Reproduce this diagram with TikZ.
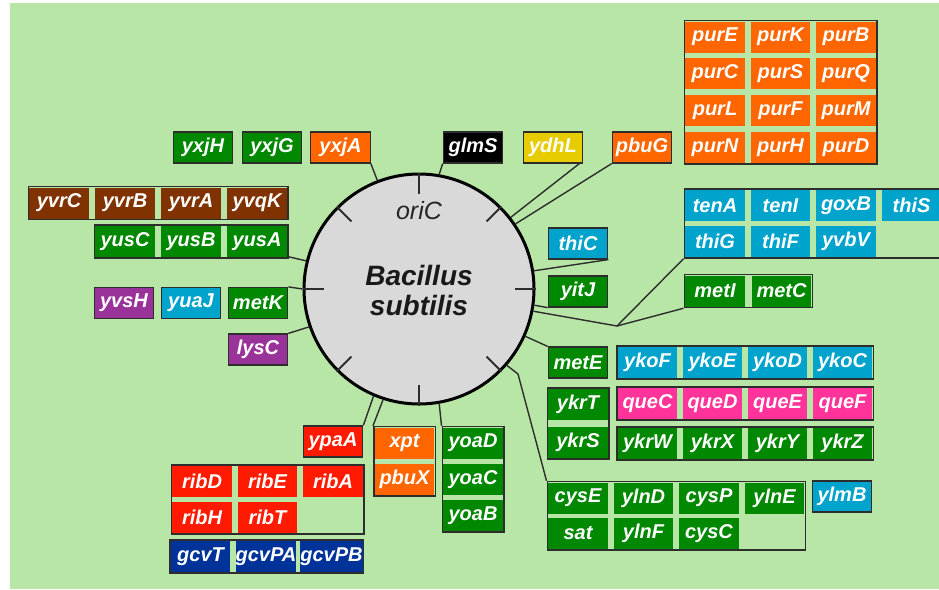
\documentclass[tikz,border=0pt]{standalone}
\usepackage{fontspec}
\setmainfont{Liberation Sans}
\usetikzlibrary{fit,calc}

\definecolor{bg}{RGB}{184,230,166}
\definecolor{chrom}{RGB}{217,217,217}
\definecolor{edge}{RGB}{45,45,45}
\definecolor{cgreen}{RGB}{0,136,0}
\definecolor{corange}{RGB}{255,102,0}
\definecolor{cbrown}{RGB}{128,51,0}
\definecolor{cpurple}{RGB}{153,51,153}
\definecolor{ccyan}{RGB}{0,163,204}
\definecolor{cpink}{RGB}{255,51,153}
\definecolor{cred}{RGB}{255,26,0}
\definecolor{cnavy}{RGB}{0,51,153}
\definecolor{cyellow}{RGB}{230,204,0}

\newcommand\genefont{\bfseries\itshape\fontsize{20}{20}\selectfont}

\tikzset{
  gene/.style={minimum width=59.5pt, minimum height=31pt, inner sep=0pt,
    text=white, font=\genefont},
  single/.style={gene, draw=edge, line width=1.2pt},
  grp/.style={draw=edge, line width=1.5pt, inner sep=0.8pt},
  link/.style={draw=edge, line width=1.4pt},
  tick/.style={draw=edge, line width=2pt},
}

\begin{document}
\begin{tikzpicture}[x=1pt, y=-1pt]
  % 初始化
  \useasboundingbox (0,0) rectangle (939,589);
  \clip (0,0) rectangle (939,589);
  \fill[white] (0,0) rectangle (939,589);
  \fill[bg] (10,3) rectangle (939,589);
  % 染色体
  \node[circle, draw=black, line width=3pt, fill=chrom, minimum size=230pt,
    inner sep=0pt] (bsu) at (419,289) {};
  \foreach \a in {0,45,...,315}
    \draw[tick] (bsu.\a) -- ($(bsu.\a)!21pt!(bsu.center)$);
  \node[text=black!85, font=\itshape\fontsize{25}{25}\selectfont] (oriLbl) at (419,211) {oriC};
  \node[text=black!90, font=\bfseries\itshape\fontsize{28}{30}\selectfont, align=center]
    (bsuLbl) at (419,290) {Bacillus\\subtilis};
  % 上方单个基因
  \node[single, fill=cgreen] (yxjH) at (203,147.5) {yxjH};
  \node[single, fill=cgreen] (yxjG) at (272,147.5) {yxjG};
  \node[single, fill=corange] (yxjA) at (340.5,147.5) {yxjA};
  \node[single, fill=black] (glmS) at (473,147.5) {glmS};
  \node[single, fill=cyellow] (ydhL) at (553,147.5) {ydhL};
  \node[single, fill=corange] (pbuG) at (642,147.5) {pbuG};
  % 左侧
  \foreach \g [count=\i from 0] in {yvrC,yvrB,yvrA,yvqK}
    \node[gene, fill=cbrown] (\g) at (59+66*\i,203) {\g};
  \node[grp, fit=(yvrC)(yvqK)] (yvrgrp) {};
  \foreach \g [count=\i from 0] in {yusC,yusB,yusA}
    \node[gene, fill=cgreen] (\g) at (125+66*\i,241.5) {\g};
  \node[grp, fit=(yusC)(yusA)] (yusgrp) {};
  \node[single, fill=cpurple] (yvsH) at (124,303) {yvsH};
  \node[single, fill=ccyan] (yuaJ) at (191,303) {yuaJ};
  \node[single, fill=cgreen] (metK) at (258,303) {metK};
  \node[single, fill=cpurple] (lysC) at (258,349.5) {lysC};
  % 右上 pur 与 ten 基因簇
  \foreach \g [count=\i from 0] in {purE,purK,purB}
    \node[gene, fill=corange] (\g) at (715+65.5*\i,37) {\g};
  \foreach \g [count=\i from 0] in {purC,purS,purQ}
    \node[gene, fill=corange] (\g) at (715+65.5*\i,73.5) {\g};
  \foreach \g [count=\i from 0] in {purL,purF,purM}
    \node[gene, fill=corange] (\g) at (715+65.5*\i,110.5) {\g};
  \foreach \g [count=\i from 0] in {purN,purH,purD}
    \node[gene, fill=corange] (\g) at (715+65.5*\i,147.5) {\g};
  \node[grp, fit=(purE)(purD)] (purgrp) {};
  \foreach \g [count=\i from 0] in {tenA,tenI,goxB,thiS}
    \node[gene, fill=ccyan] (\g) at (715+65.5*\i,205.5) {\g};
  \foreach \g [count=\i from 0] in {thiG,thiF,yvbV}
    \node[gene, fill=ccyan] (\g) at (715+65.5*\i,241.5) {\g};
  \node[grp, fit=(tenA)(thiS)(thiG)] (tengrp) {};
  % 右侧
  \node[single, fill=ccyan] (thiC) at (578,243.5) {thiC};
  \node[single, fill=cgreen] (yitJ) at (578,291.5) {yitJ};
  \node[gene, fill=cgreen] (metI) at (715,291) {metI};
  \node[gene, fill=cgreen] (metC) at (781.5,291) {metC};
  \node[grp, fit=(metI)(metC)] (metgrp) {};
  \node[single, fill=cgreen] (metE) at (578,362.5) {metE};
  \foreach \g [count=\i from 0] in {ykoF,ykoE,ykoD,ykoC}
    \node[gene, fill=ccyan] (\g) at (647.5+65*\i,362.5) {\g};
  \node[grp, fit=(ykoF)(ykoC)] (ykogrp) {};
  \node[gene, fill=cgreen] (ykrT) at (578,404.5) {ykrT};
  \node[gene, fill=cgreen] (ykrS) at (578,442.5) {ykrS};
  \node[grp, fit=(ykrT)(ykrS)] (ykrgrp) {};
  \foreach \g [count=\i from 0] in {queC,queD,queE,queF}
    \node[gene, fill=cpink] (\g) at (647.5+65*\i,403.5) {\g};
  \node[grp, fit=(queC)(queF)] (quegrp) {};
  \foreach \g [count=\i from 0] in {ykrW,ykrX,ykrY,ykrZ}
    \node[gene, fill=cgreen] (\g) at (647.5+65*\i,443.5) {\g};
  \node[grp, fit=(ykrW)(ykrZ)] (ykrWgrp) {};
  \foreach \g [count=\i from 0] in {cysE,ylnD,cysP,ylnE}
    \node[gene, fill=cgreen] (\g) at (578+65.5*\i,498) {\g};
  \foreach \g [count=\i from 0] in {sat,ylnF,cysC}
    \node[gene, fill=cgreen] (\g) at (578+65.5*\i,533.5) {\g};
  \node[grp, fit=(cysE)(ylnE)(sat)] (cysgrp) {};
  \node[single, fill=ccyan] (ylmB) at (842,496.5) {ylmB};
  % 下方
  \node[single, fill=cred] (ypaA) at (333,441.5) {ypaA};
  \node[gene, fill=corange] (xpt) at (404.5,443) {xpt};
  \node[gene, fill=corange] (pbuX) at (404.5,479.5) {pbuX};
  \node[grp, fit=(xpt)(pbuX)] (xptgrp) {};
  \foreach \g [count=\i from 0] in {yoaD,yoaC,yoaB}
    \node[gene, fill=cgreen] (\g) at (473,443+36.3*\i) {\g};
  \node[grp, fit=(yoaD)(yoaB)] (yoagrp) {};
  \foreach \g [count=\i from 0] in {ribD,ribE,ribA}
    \node[gene, fill=cred] (\g) at (202+65.5*\i,481.5) {\g};
  \foreach \g [count=\i from 0] in {ribH,ribT}
    \node[gene, fill=cred] (\g) at (202+65.5*\i,517.5) {\g};
  \node[grp, fit=(ribD)(ribA)(ribH)] (ribgrp) {};
  \foreach \g [count=\i from 0] in {gcvT,gcvPA,gcvPB}
    \node[gene, fill=cnavy] (\g) at (200.5+65.5*\i,556.5) {\g};
  \node[grp, fit=(gcvT)(gcvPB)] (gcvgrp) {};
  % 连线
  \coordinate (metjn) at (617,326);
  \coordinate (cysbend) at (518,374);
  \draw[link] (yxjA.south east) -- (bsu.111);
  \draw[link] (glmS.south west) -- (bsu.80);
  \draw[link] ([xshift=-4pt]ydhL.south east) -- (bsu.38);
  \draw[link] (pbuG.south west) -- (bsu.34);
  \draw[link] ([yshift=2pt]yusgrp.south east) -- (bsu.166);
  \draw[link] (metK.north east) -- (bsu.180);
  \draw[link] (lysC.north east) -- (bsu.199);
  \draw[link] (thiC.south east) -- (bsu.9);
  \draw[link] (yitJ.south west) -- (bsu.-8);
  \draw[link] (bsu.-11) -- (metjn) -- (tengrp.south west);
  \draw[link] (metjn) -- (metgrp.south west);
  \draw[link] (metE.north west) -- (bsu.-24);
  \draw[link] (bsu.-41) -- (cysbend) -- (cysgrp.north west);
  \draw[link] (ypaA.north east) -- (bsu.247);
  \draw[link] (xptgrp.north west) -- (bsu.252);
  \draw[link] (yoagrp.north west) -- (bsu.280);
\end{tikzpicture}
\end{document}
